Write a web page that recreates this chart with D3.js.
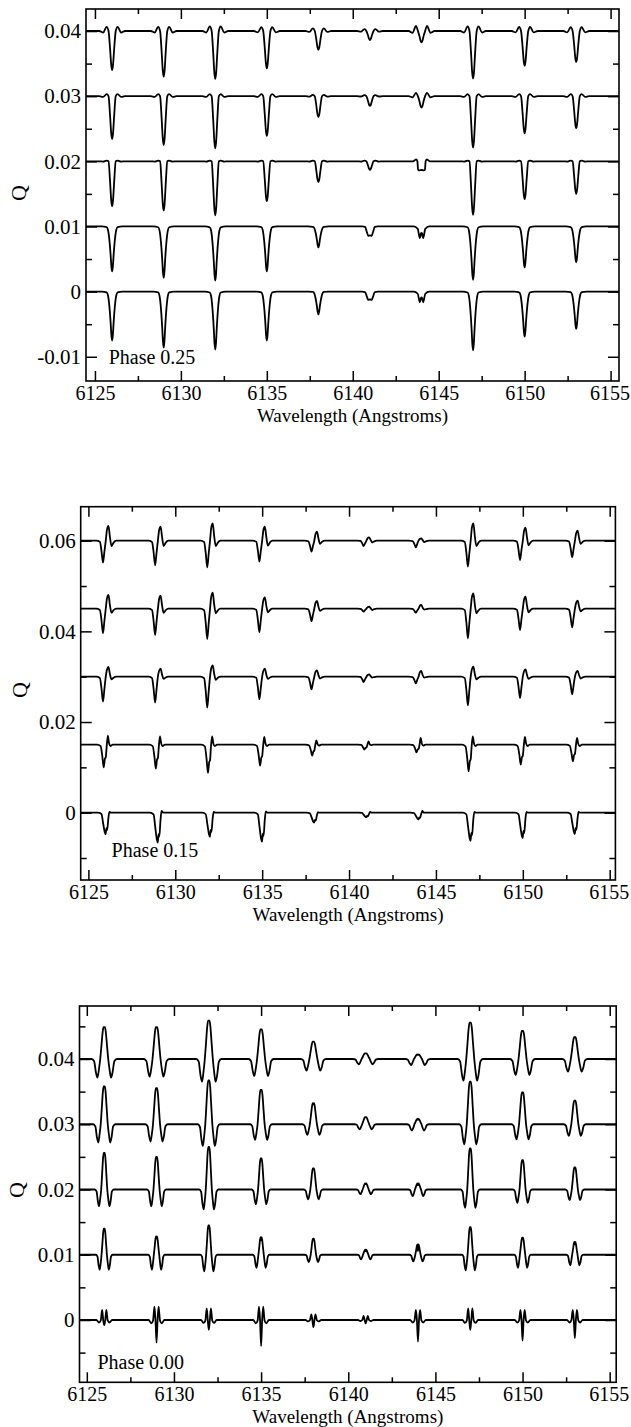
<!DOCTYPE html>
<html><head><meta charset="utf-8">
<script src="https://cdn.jsdelivr.net/npm/d3@7"></script>
<style>
body{margin:0;background:#fff}
svg{display:block}
svg text{font-family:"Liberation Serif","Times New Roman",Times,serif !important;fill:#000}
</style>
</head><body>
<svg id="c" width="631" height="1427"></svg>
<script>
// ---------------- DATA ----------------
const lineCenters = [6126, 6129, 6132, 6135, 6138, 6141, 6144, 6147, 6150, 6153];
const xTicksMajor = [6125, 6130, 6135, 6140, 6145, 6150, 6155];
const xTickLabels = ["6125", "6130", "6135", "6140", "6145", "6150", "6155"];
const xTicksMinor = [6127.5, 6132.5, 6137.5, 6142.5, 6147.5, 6152.5];
const xTitle = "Wavelength (Angstroms)";
const yTitle = "Q";

// Panel 1 : Phase 0.25
const p1Phase = "Phase 0.25";
const p1Offsets = [0.04, 0.03, 0.02, 0.01, 0];
const p1YMajor = [-0.01, 0, 0.01, 0.02, 0.03, 0.04];
const p1YLabels = ["-0.01", "0", "0.01", "0.02", "0.03", "0.04"];
const p1YMinor = [-0.005, 0.005, 0.015, 0.025, 0.035];
const p1Depth = [
  [0.00598, 0.0070, 0.00736, 0.00573, 0.0029, 0.00138, 0.00174, 0.0073, 0.00532, 0.00475],
  [0.0066, 0.0075, 0.0080, 0.0061, 0.0032, 0.0015, 0.00175, 0.0079, 0.0057, 0.0049],
  [0.0069, 0.00756, 0.0083, 0.0061, 0.0032, 0.00132, 0.0014, 0.0082, 0.0058, 0.0050],
  [0.0069, 0.0079, 0.0083, 0.0069, 0.0032, 0.00143, 0.0018, 0.0082, 0.0063, 0.0055],
  [0.0075, 0.0086, 0.0089, 0.0075, 0.0035, 0.00127, 0.00163, 0.0090, 0.0069, 0.0057]
];
const p1Bump = [
  [0.00065, 0.00065, 0.0007, 0.0006, 0.0004, 0.00028, 0.0008, 0.0007, 0.00062, 0.0006],
  [0.0003, 0.0003, 0.00032, 0.0003, 0.0002, 0.00015, 0.0005, 0.00032, 0.0003, 0.0003],
  [0.00012, 0.00012, 0.00012, 0.0001, 0.0001, 0.0001, 0.0003, 0.00012, 0.0001, 0.0001],
  [0, 0, 0, 0, 0, 0, 0, 0, 0, 0],
  [0, 0, 0, 0, 0, 0, 0, 0, 0, 0]
];
const p1Shape = [
  ["bump","bump","bump","bump","bump","bump","bump","bump","bump","bump"],
  ["bump","bump","bump","bump","bump","bump","bump","bump","bump","bump"],
  ["bump","bump","bump","bump","bump","bump","box","bump","bump","bump"],
  ["plain","plain","plain","plain","plain","u","w","plain","plain","plain"],
  ["plain","plain","plain","plain","plain","u","w","plain","plain","plain"]
];

// Panel 2 : Phase 0.15
const p2Phase = "Phase 0.15";
const p2Offsets = [0.06, 0.045, 0.03, 0.015, 0];
const p2YMajor = [0, 0.02, 0.04, 0.06];
const p2YLabels = ["0", "0.02", "0.04", "0.06"];
const p2YMinor = [-0.01, 0.01, 0.03, 0.05];
const p2Dip = [
  [0.00485, 0.00544, 0.00588, 0.00463, 0.00243, 0.00118, 0.00147, 0.00573, 0.00426, 0.00368],
  [0.00543, 0.0058, 0.00668, 0.0052, 0.00276, 0.00066, 0.00088, 0.00653, 0.0047, 0.0041],
  [0.0055, 0.00574, 0.00684, 0.005, 0.0028, 0.00117, 0.00148, 0.00633, 0.0047, 0.0039],
  [0.005, 0.0053, 0.00624, 0.00463, 0.00243, 0.0011, 0.0017, 0.00589, 0.00441, 0.00368],
  [0.00477, 0.0066, 0.0053, 0.0064, 0.0022, 0.001, 0.00146, 0.0062, 0.0056, 0.0047]
];
const p2Peak = [
  [0.00324, 0.00309, 0.00382, 0.00309, 0.00199, 0.00074, 0.00051, 0.00382, 0.00287, 0.0022],
  [0.00302, 0.00287, 0.00353, 0.0025, 0.0017, 0.00044, 0.00082, 0.00338, 0.00265, 0.00176],
  [0.00214, 0.00176, 0.0025, 0.00176, 0.00139, 0.0005, 0.00126, 0.0022, 0.00161, 0.00126],
  [0.00199, 0.00183, 0.00183, 0.0017, 0.00095, 0.00073, 0.00147, 0.00183, 0.0017, 0.00147],
  [0.0002, 0.0004, 0.0002, 0.0003, 0.0001, 0.0002, 0.0004, 0.0002, 0.0002, 0.0002]
];
const p2After = [
  [0.0012, 0.0012, 0.0012, 0.0011, 0.0007, 0.0004, 0.0003, 0.0012, 0.001, 0.0007],
  [0.0009, 0.0009, 0.001, 0.0008, 0.0005, 0.0003, 0.0002, 0.001, 0.0008, 0.0006],
  [0.0006, 0.0005, 0.0007, 0.0005, 0.0004, 0.0002, 0.0002, 0.0006, 0.0005, 0.0004],
  [0.0003, 0.0003, 0.0003, 0.0003, 0.0002, 0.0001, 0.0002, 0.0003, 0.0003, 0.0003],
  [0, 0, 0, 0, 0, 0, 0, 0, 0, 0]
];
const p2RowShape = ["sw", "sw", "sw", "kink", "dip"];

// Panel 3 : Phase 0.00
const p3Phase = "Phase 0.00";
const p3Offsets = [0.04, 0.03, 0.02, 0.01, 0];
const p3YMajor = [0, 0.01, 0.02, 0.03, 0.04];
const p3YLabels = ["0", "0.01", "0.02", "0.03", "0.04"];
const p3YMinor = [-0.005, 0.005, 0.015, 0.025, 0.035, 0.045];
const p3Peak = [
  [0.00486, 0.00486, 0.00587, 0.00455, 0.00265, 0.00087, 0.00072, 0.00556, 0.00429, 0.00333],
  [0.00578, 0.00552, 0.0067, 0.00526, 0.00322, 0.00107, 0.00081, 0.00654, 0.00486, 0.00363],
  [0.00562, 0.005, 0.00654, 0.00475, 0.00322, 0.00092, 0.00092, 0.00628, 0.00449, 0.00337],
  [0.00398, 0.0028, 0.00449, 0.00271, 0.00245, 0.00077, 0.00158, 0.00424, 0.0026, 0.00195],
  [0.00153, 0.00204, 0.00179, 0.00204, 0.00087, 0.00061, 0.00153, 0.00179, 0.00153, 0.00153]
];
const p3Lobe = [
  [0.00287, 0.00271, 0.00348, 0.0026, 0.00179, 0.00081, 0.00092, 0.00333, 0.00245, 0.00195],
  [0.0028, 0.00265, 0.00333, 0.0024, 0.00164, 0.00077, 0.00097, 0.00307, 0.0023, 0.00179],
  [0.00256, 0.00256, 0.00306, 0.00225, 0.00153, 0.00072, 0.00103, 0.0028, 0.00204, 0.00164],
  [0.0023, 0.0023, 0.00256, 0.002, 0.00113, 0.0007, 0.00103, 0.0024, 0.002, 0.00164],
  [0.0008, 0.00348, 0.0015, 0.004, 0.0011, 0.0005, 0.00332, 0.00153, 0.00317, 0.0028]
];
const p3Notch = [
  [1, 1, 1, 1, 1, 1, 0.85, 1, 1, 1],
  [1, 1, 1, 1, 0.95, 1, 0.85, 1, 1, 1],
  [1, 1, 1, 1, 1, 0.9, 0.7, 1, 1, 1],
  [1, 0.9, 1, 0.82, 1, 0.7, 0.35, 1, 0.92, 0.82],
  [1, 1, 1, 1, 1, 1, 1, 1, 1, 1]
];
const p3RowShape = ["sym", "sym", "sym", "sym", "spk"];
const p3RowWidth = [1, 0.88, 0.76, 0.67, 1];

// Profile key points: [dλ (Å), coefA, coefB, coefC]
function mirror(half) {
  const out = half.slice();
  for (let i = half.length - 1; i >= 0; i--) {
    if (half[i][0] !== 0) { const q = half[i].slice(); q[0] = -q[0]; out.push(q); }
  }
  return out;
}
const shapes = {
  bump: mirror([[-0.75,0,0,0],[-0.52,0,-0.35,0],[-0.32,0,1,0],[-0.21,0,0,0],[-0.12,-0.45,0,0],[-0.05,-0.88,0,0],[0,-1,0,0]]),
  plain: mirror([[-0.6,0,0,0],[-0.32,-0.015,0,0],[-0.24,-0.08,0,0],[-0.16,-0.3,0,0],[-0.09,-0.62,0,0],[-0.04,-0.9,0,0],[0,-1,0,0]]),
  box: mirror([[-0.5,0,0,0],[-0.3,0,1,0],[-0.24,0,0,0],[-0.2,-0.9,0,0],[-0.14,-1,0,0],[0,-0.95,0,0]]),
  w: mirror([[-0.45,0,0,0],[-0.22,-0.2,0,0],[-0.1,-1,0,0],[-0.03,-0.6,0,0],[0,-0.55,0,0]]),
  u: mirror([[-0.45,0,0,0],[-0.28,-0.05,0,0],[-0.18,-0.6,0,0],[-0.1,-1,0,0],[0,-0.95,0,0]]),
  sw: [[-0.55,0,0,0],[-0.34,-0.05,0,0],[-0.25,-0.45,0,0],[-0.16,-1,0,0],[-0.08,-0.5,0,0],[0,0,0,0],[0.07,0,0.75,0],[0.155,0,1,0],[0.24,0,0.25,0],[0.33,0,0,-1],[0.45,0,0,-0.35],[0.6,0,0,0]],
  kink: [[-0.5,0,0,0],[-0.3,-0.06,0,0],[-0.2,-0.5,0,0],[-0.12,-1,0,0],[-0.05,-0.62,0,0],[0,-0.55,0,0],[0.05,-0.1,0,0],[0.12,0,1,0],[0.19,0,0.15,0],[0.27,0,0,-1],[0.4,0,0,0]],
  dip: [[-0.45,0,0,0],[-0.25,-0.06,0,0],[-0.15,-0.5,0,0],[-0.06,-0.9,0,0],[-0.01,-1,0,0],[0.04,-0.72,0,0],[0.08,-0.8,0,0],[0.15,-0.25,0,0],[0.21,0,1,0],[0.3,0,0,0]],
  sym: mirror([[-0.72,0,0,0],[-0.58,0,-0.12,0],[-0.48,0,-0.7,0],[-0.39,0,-1,0],[-0.31,0,-0.6,0],[-0.23,0,0,0],[-0.16,0.42,0,0],[-0.09,0.85,0,0],[-0.04,1,0,0],[0,0,0,1]]),
  spk: mirror([[-0.45,0,0,0],[-0.3,-0.25,0,0],[-0.2,-0.05,0,0],[-0.12,1,0,0],[-0.06,0,0,0],[0,0,-1,0]])
};

// ---------------- DRAW ----------------
const svg = d3.select("#c");
const SERIF = '"Liberation Serif","Times New Roman",Times,serif';
const FONT = 20;

function rowPoints(xd, off, shapeNames, params, width) {
  const pts = [[xd[0], off], [xd[1], off]];
  lineCenters.forEach((c, i) => {
    const [A, B, C] = params[i];
    shapes[shapeNames[i]].forEach(p => {
      pts.push([c + p[0] * width, off + p[1] * A + p[2] * B + p[3] * C]);
    });
  });
  pts.sort((a, b) => a[0] - b[0]);
  return pts;
}

function styleAxis(g, fs) {
  g.attr("font-family", null).attr("font-size", null);
  g.select(".domain").remove();
  g.selectAll(".tick line").attr("stroke", "#000").attr("stroke-width", 1.5);
  g.selectAll(".tick text").attr("fill", "#000")
    .style("font-family", SERIF).style("font-size", (fs || FONT) + "px");
  return g;
}

function drawPanel(cfg) {
  const f = cfg.frame;
  const x = d3.scaleLinear().domain(cfg.xDomain).range([f.l, f.r]);
  const y = d3.scaleLinear().domain(cfg.yDomain).range([f.b, f.t]);
  const g = svg.append("g");

  const clipId = "clip" + cfg.id;
  g.append("clipPath").attr("id", clipId).append("rect")
    .attr("x", f.l).attr("y", f.t).attr("width", f.r - f.l).attr("height", f.b - f.t);

  const line = d3.line().x(d => x(d[0])).y(d => y(d[1])).curve(d3.curveMonotoneX);
  const cg = g.append("g").attr("clip-path", `url(#${clipId})`);
  cfg.rows.forEach(pts => {
    cg.append("path").attr("d", line(pts)).attr("fill", "none")
      .attr("stroke", "#000").attr("stroke-width", 1.8).attr("stroke-linejoin", "round");
  });

  // axes (ticks inward)
  const bx = styleAxis(g.append("g").attr("transform", `translate(0,${f.b})`)
    .call(d3.axisBottom(x).tickValues(xTicksMajor).tickFormat((d, i) => xTickLabels[i])
      .tickSizeInner(-10).tickSizeOuter(0).tickPadding(5)));
  bx.selectAll(".tick text").filter(d => d === 6155).attr("dx", -1);
  styleAxis(g.append("g").attr("transform", `translate(0,${f.b})`)
    .call(d3.axisBottom(x).tickValues(xTicksMinor).tickFormat("").tickSizeInner(-5).tickSizeOuter(0)));
  styleAxis(g.append("g").attr("transform", `translate(0,${f.t})`)
    .call(d3.axisTop(x).tickValues(xTicksMajor).tickFormat("").tickSizeInner(-10).tickSizeOuter(0)));
  styleAxis(g.append("g").attr("transform", `translate(0,${f.t})`)
    .call(d3.axisTop(x).tickValues(xTicksMinor).tickFormat("").tickSizeInner(-5).tickSizeOuter(0)));
  styleAxis(g.append("g").attr("transform", `translate(${f.l},0)`)
    .call(d3.axisLeft(y).tickValues(cfg.yMajor).tickFormat((d, i) => cfg.yLabels[i])
      .tickSizeInner(-11).tickSizeOuter(0).tickPadding(5)), 21);
  styleAxis(g.append("g").attr("transform", `translate(${f.l},0)`)
    .call(d3.axisLeft(y).tickValues(cfg.yMinor).tickFormat("").tickSizeInner(-6).tickSizeOuter(0)));
  styleAxis(g.append("g").attr("transform", `translate(${f.r},0)`)
    .call(d3.axisRight(y).tickValues(cfg.yMajor).tickFormat("").tickSizeInner(-11).tickSizeOuter(0)));
  styleAxis(g.append("g").attr("transform", `translate(${f.r},0)`)
    .call(d3.axisRight(y).tickValues(cfg.yMinor).tickFormat("").tickSizeInner(-6).tickSizeOuter(0)));

  // frame
  g.append("rect").attr("x", f.l).attr("y", f.t).attr("width", f.r - f.l).attr("height", f.b - f.t)
    .attr("fill", "none").attr("stroke", "#000").attr("stroke-width", 1.6);

  // titles
  g.append("text").attr("x", (f.l + f.r) / 2).attr("y", f.b + 40.5).attr("text-anchor", "middle")
    .style("font-family", SERIF).style("font-size", "19px").text(xTitle);
  g.append("text").attr("transform", `translate(${cfg.qPos[0]},${cfg.qPos[1]}) rotate(-90)`)
    .attr("text-anchor", "middle").style("font-family", SERIF).style("font-size", "22px").text(yTitle);
  g.append("text").attr("x", cfg.phasePos[0]).attr("y", cfg.phasePos[1])
    .style("font-family", SERIF).style("font-size", "20px").text(cfg.phase);
}

// Panel 1
{
  const xd = [6124.48, 6155.49];
  const rows = p1Offsets.map((off, r) =>
    rowPoints(xd, off, p1Shape[r], lineCenters.map((c, i) => [p1Depth[r][i], p1Bump[r][i], 0]), 1));
  drawPanel({ id: 1, frame: { l: 86, r: 619, t: 9, b: 381 }, xDomain: xd, yDomain: [-0.01372, 0.04338],
    yMajor: p1YMajor, yLabels: p1YLabels, yMinor: p1YMinor, rows,
    phase: p1Phase, phasePos: [108.7, 364], qPos: [26, 193] });
}
// Panel 2
{
  const xd = [6124.557, 6155.328];
  const rows = p2Offsets.map((off, r) =>
    rowPoints(xd, off, lineCenters.map(() => p2RowShape[r]),
      lineCenters.map((c, i) => [p2Dip[r][i], p2Peak[r][i], p2After[r][i]]), 1));
  drawPanel({ id: 2, frame: { l: 80.7, r: 615.4, t: 506.7, b: 880 }, xDomain: xd, yDomain: [-0.01485, 0.0675],
    yMajor: p2YMajor, yLabels: p2YLabels, yMinor: p2YMinor, rows,
    phase: p2Phase, phasePos: [111.6, 857], qPos: [27, 690] });
}
// Panel 3
{
  const xd = [6124.581, 6155.373];
  const rows = p3Offsets.map((off, r) =>
    rowPoints(xd, off, lineCenters.map(() => p3RowShape[r]),
      lineCenters.map((c, i) => r < 4
        ? [p3Peak[r][i], p3Lobe[r][i], p3Peak[r][i] * p3Notch[r][i]]
        : [p3Peak[r][i], p3Lobe[r][i], 0]), p3RowWidth[r]));
  drawPanel({ id: 3, frame: { l: 79.5, r: 616.2, t: 1006, b: 1382.3 }, xDomain: xd, yDomain: [-0.00955, 0.04812],
    yMajor: p3YMajor, yLabels: p3YLabels, yMinor: p3YMinor, rows,
    phase: p3Phase, phasePos: [97.4, 1368.5], qPos: [24, 1190] });
}
</script>
</body></html>
